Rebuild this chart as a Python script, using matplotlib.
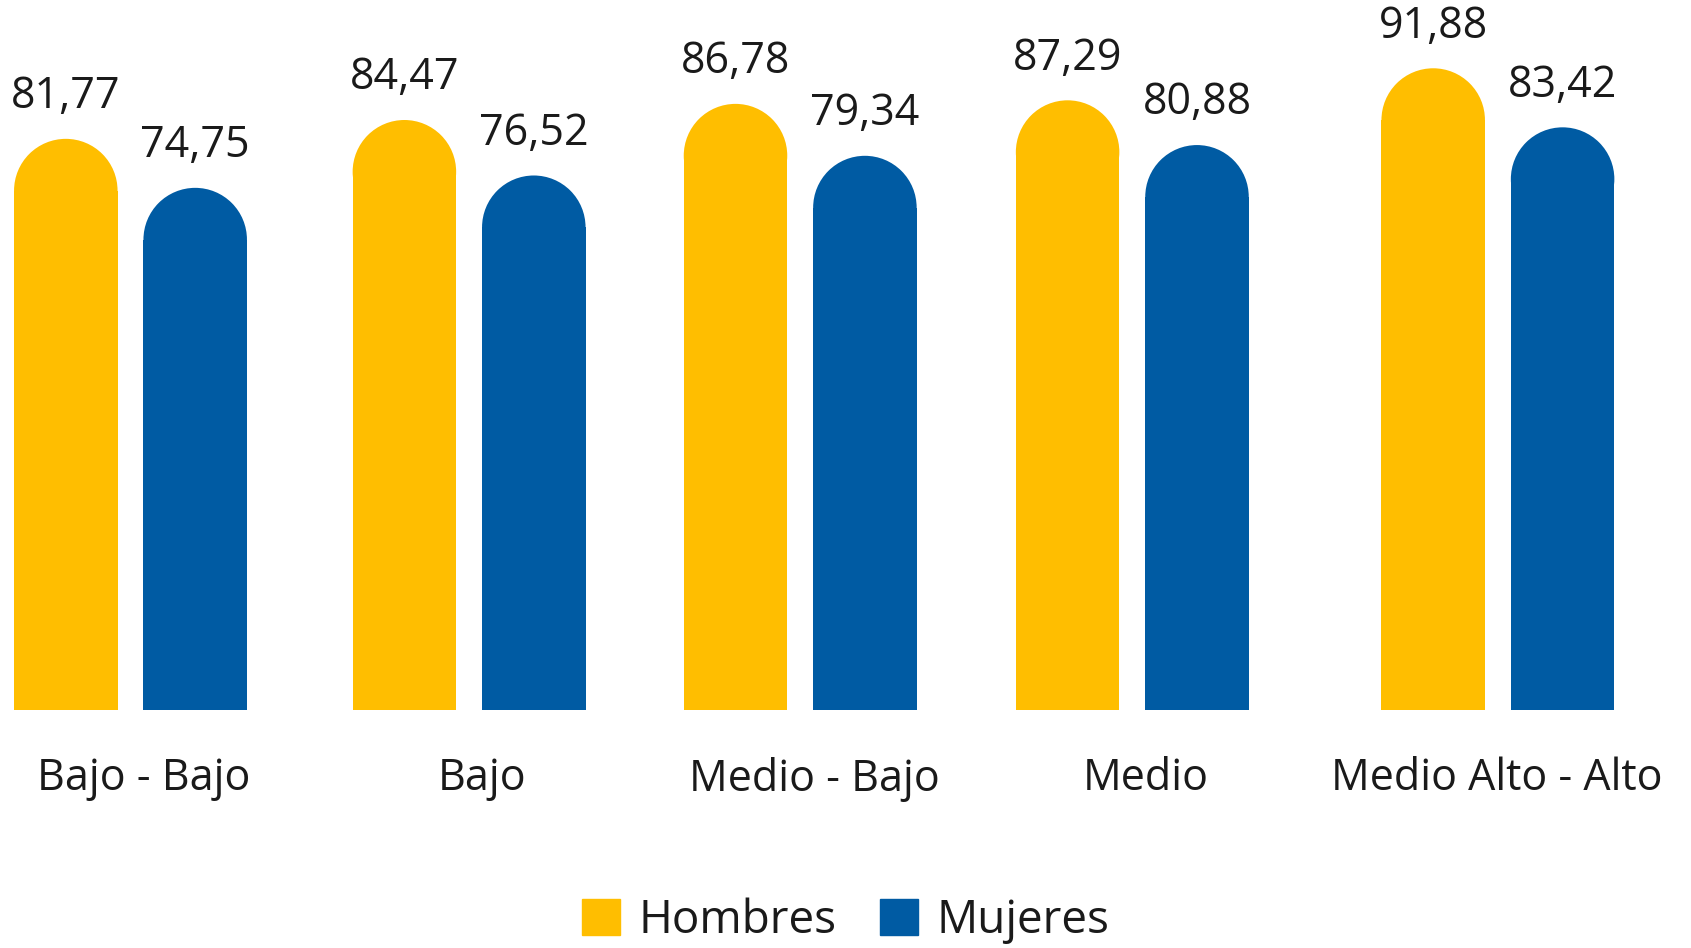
import matplotlib
matplotlib.use("Agg")
import matplotlib.pyplot as plt
from matplotlib.patches import Ellipse, Patch

plt.rcParams["font.family"] = ["Open Sans", "DejaVu Sans"]

categories = ["Bajo - Bajo", "Bajo", "Medio - Bajo", "Medio", "Medio Alto - Alto"]
hombres = [81.77, 84.47, 86.78, 87.29, 91.88]
mujeres = [74.75, 76.52, 79.34, 80.88, 83.42]

YELLOW = "#FFBE00"
BLUE = "#005BA3"

# layout (figure pixels, full size 1691x948)
W, H = 1691, 948
group_x = [130.5, 469.1, 800.2, 1132.3, 1497.9]
label_x = [143.4, 482.0, 814.2, 1145.3, 1496.8]
offset = 64.7
bar_w = 103.5
px_per_unit = 6.98
base_px = 238.4  # baseline height from bottom

fig = plt.figure(figsize=(W / 100, H / 100), dpi=100)
ax = fig.add_axes([0, 0, 1, 1])
ax.set_xlim(0, W)
ax.set_ylim(-base_px / px_per_unit, (H - base_px) / px_per_unit)
ax.axis("off")

r_y = (bar_w / 2) / px_per_unit  # cap radius in y units


def rounded_bars(xs, vals, color):
    ax.bar(xs, [v - r_y for v in vals], width=bar_w, color=color, linewidth=0)
    for x, v in zip(xs, vals):
        ax.add_patch(Ellipse((x, v - r_y), bar_w, 2 * r_y, color=color, linewidth=0))
        ax.text(x, v + 42 / px_per_unit, f"{v:.2f}".replace(".", ","),
                ha="center", va="center", fontsize=31, color="#1a1a1a")


rounded_bars([g - offset for g in group_x], hombres, YELLOW)
rounded_bars([g + offset for g in group_x], mujeres, BLUE)

label_y = (H - 779 - base_px) / px_per_unit
for x, c in zip(label_x, categories):
    ax.text(x, label_y, c, ha="center", va="center", fontsize=31, color="#1a1a1a")

handles = [Patch(color=YELLOW, label="Hombres"), Patch(color=BLUE, label="Mujeres")]
fig.legend(handles=handles, loc="center", bbox_to_anchor=(0.5, 1 - 921 / H), ncol=2,
           frameon=False, fontsize=33, handlelength=0.83, handleheight=0.83,
           handletextpad=0.4, columnspacing=0.95, labelcolor="#1a1a1a",
           borderpad=0.1)

fig.savefig("out.png", dpi=100, facecolor="white")
